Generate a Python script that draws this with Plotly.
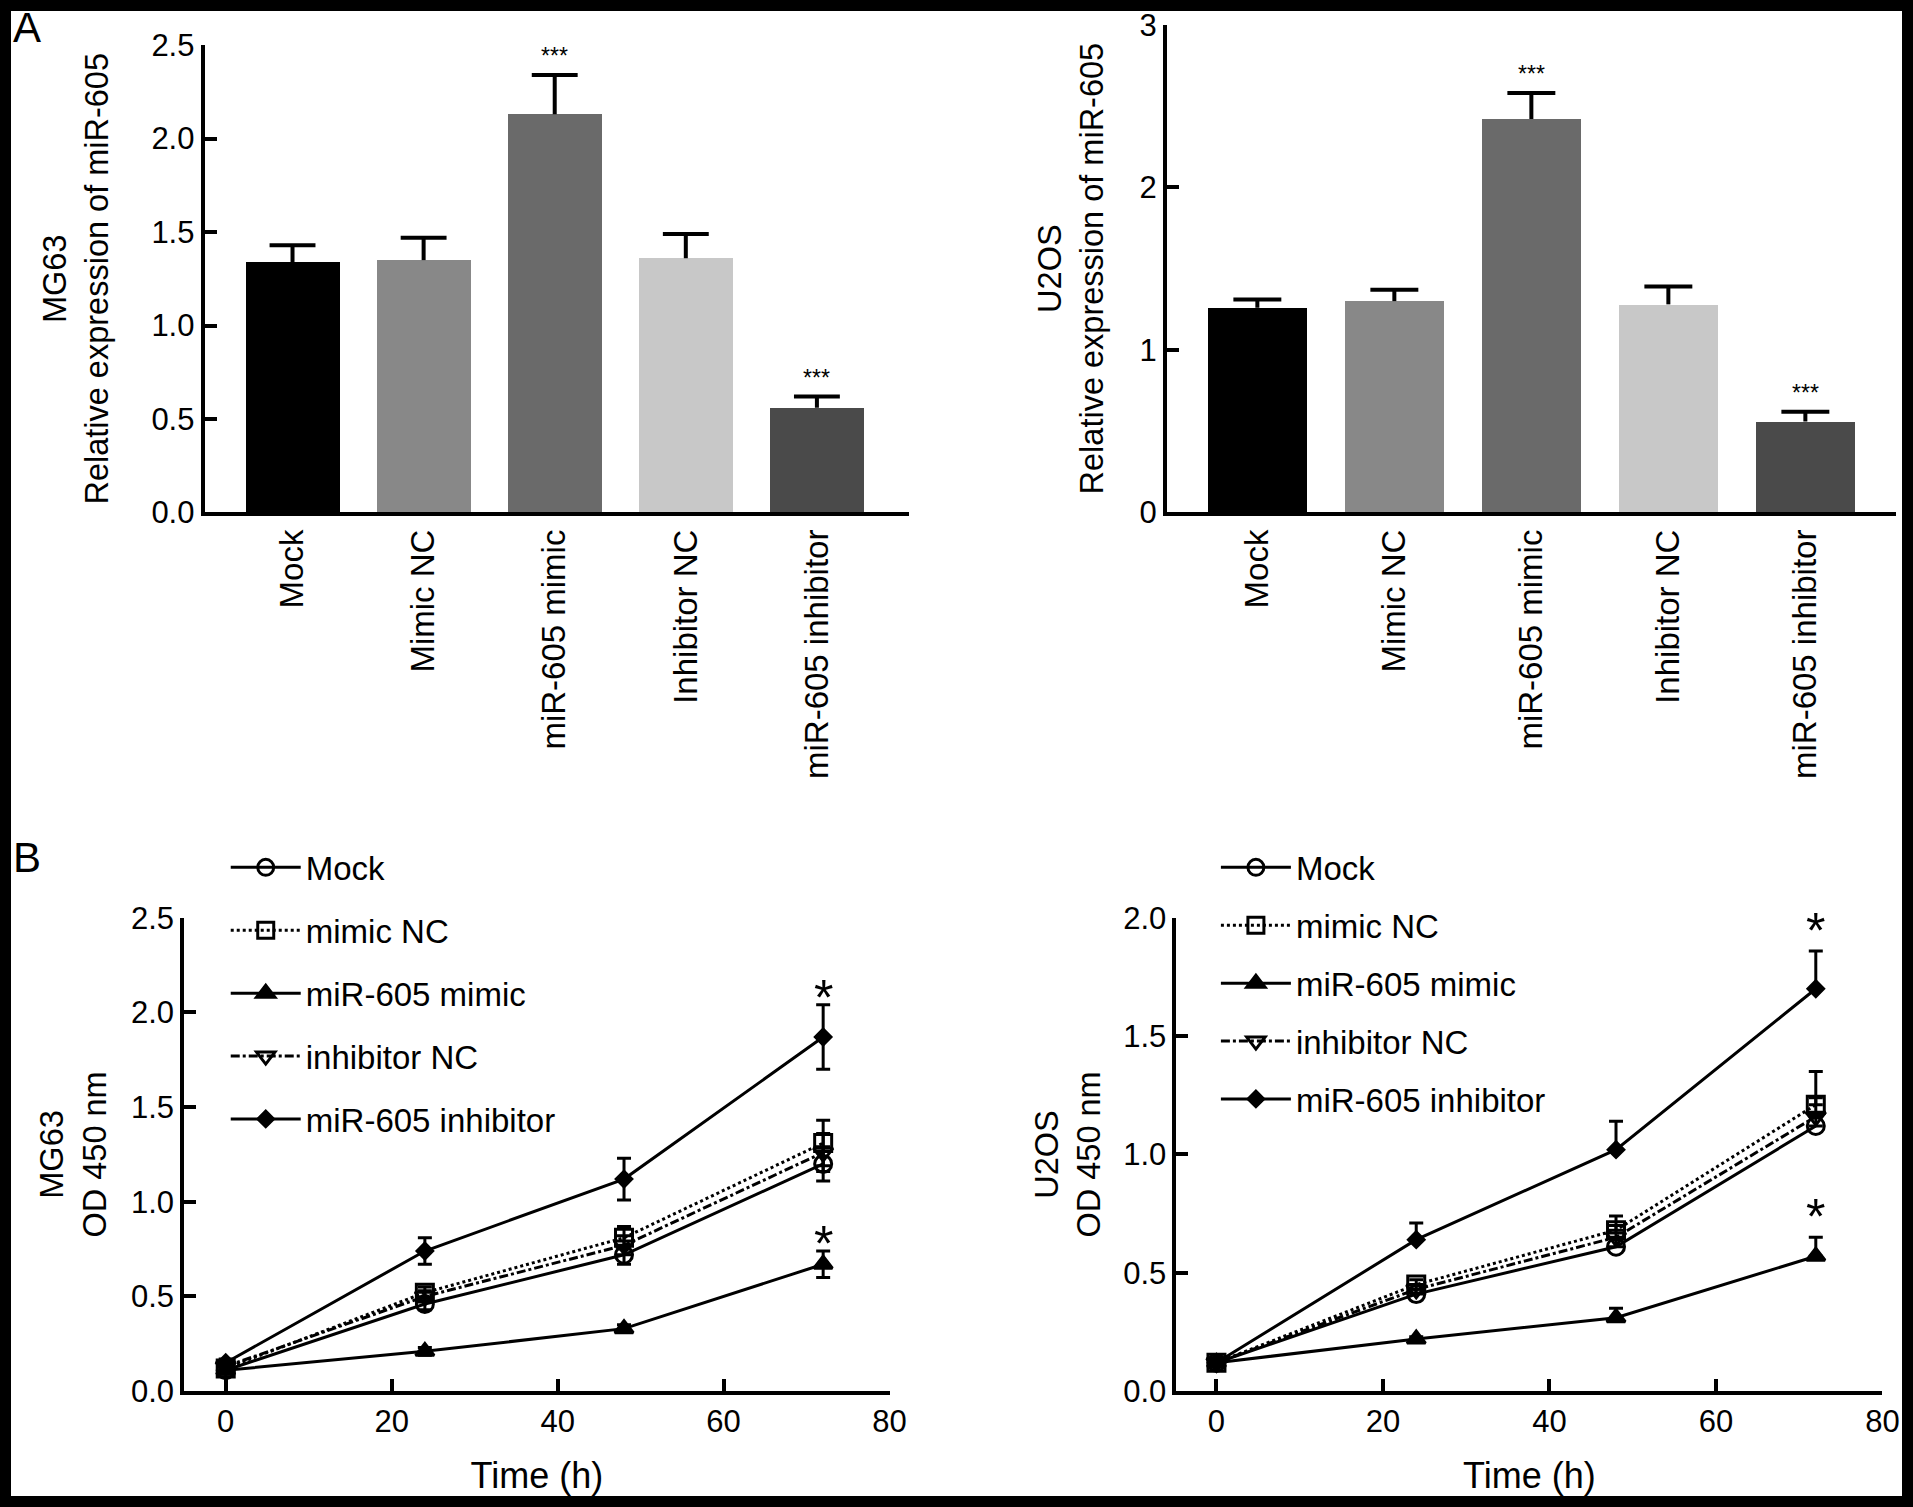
import plotly.graph_objects as go

# panel A: relative expression of miR-605 (bars, mean + SD)
groups = ["Mock", "Mimic NC", "miR-605 mimic", "Inhibitor NC", "miR-605 inhibitor"]
mg63_expr = [1.34, 1.35, 2.13, 1.36, 0.56]
mg63_expr_sd = [0.09, 0.12, 0.21, 0.13, 0.06]
u2os_expr = [1.26, 1.30, 2.42, 1.28, 0.56]
u2os_expr_sd = [0.05, 0.07, 0.16, 0.11, 0.06]
expr_sig = ["", "", "***", "", "***"]

# panel B: OD 450 nm growth curves
hours = [0, 24, 48, 72]
series = ["Mock", "mimic NC", "miR-605 mimic", "inhibitor NC", "miR-605 inhibitor"]
curve_sig = ["", "", "*", "", "*"]

mg63_mock = [0.11, 0.46, 0.72, 1.20]
mg63_mimic_nc = [0.12, 0.52, 0.81, 1.31]
mg63_mimic = [0.11, 0.21, 0.33, 0.67]
mg63_inhibitor_nc = [0.13, 0.50, 0.77, 1.26]
mg63_inhibitor = [0.15, 0.74, 1.12, 1.87]
mg63_mock_sd = [0.02, 0.03, 0.05, 0.09]
mg63_mimic_nc_sd = [0.02, 0.03, 0.06, 0.12]
mg63_mimic_sd = [0.02, 0.02, 0.02, 0.07]
mg63_inhibitor_nc_sd = [0.02, 0.03, 0.05, 0.10]
mg63_inhibitor_sd = [0.02, 0.07, 0.11, 0.17]

u2os_mock = [0.12, 0.41, 0.61, 1.12]
u2os_mimic_nc = [0.12, 0.45, 0.68, 1.21]
u2os_mimic = [0.12, 0.22, 0.31, 0.57]
u2os_inhibitor_nc = [0.12, 0.43, 0.65, 1.16]
u2os_inhibitor = [0.12, 0.64, 1.02, 1.70]
u2os_mock_sd = [0.01, 0.02, 0.03, 0.05]
u2os_mimic_nc_sd = [0.01, 0.02, 0.06, 0.14]
u2os_mimic_sd = [0.01, 0.01, 0.04, 0.08]
u2os_inhibitor_nc_sd = [0.01, 0.02, 0.05, 0.08]
u2os_inhibitor_sd = [0.01, 0.07, 0.12, 0.16]

bar_colors = ["#000000", "#888888", "#6a6a6a", "#c8c8c8", "#4a4a4a"]
line_dash = ["solid", "dot", "solid", "dashdot", "solid"]
marker_symbol = ["circle-open", "square-open", "triangle-up", "triangle-down-open", "diamond"]
marker_size = [17, 17, 16, 17, 12]

FONT = "Liberation Sans, Arial, sans-serif"
W, H = 1913, 1507

fig = go.Figure()


def add_bar_panel(vals, sd, xa, ya):
    pos = list(range(len(groups)))
    fig.add_trace(go.Bar(
        x=pos, y=vals, width=0.72, marker=dict(color=bar_colors, line=dict(width=0)),
        xaxis=xa, yaxis=ya, showlegend=False,
    ))
    # upper-only error bars with caps
    xs, ys = [], []
    for p, v, s in zip(pos, vals, sd):
        xs += [p, p, None, p - 0.175, p + 0.175, None]
        ys += [v, v + s, None, v + s, v + s, None]
    fig.add_trace(go.Scatter(
        x=xs, y=ys, mode="lines", line=dict(color="black", width=4),
        xaxis=xa, yaxis=ya, showlegend=False, hoverinfo="skip",
    ))
    for p, v, s, mark in zip(pos, vals, sd, expr_sig):
        if mark:
            fig.add_annotation(
                x=p, y=v + s, xref=xa, yref=ya, text=mark, showarrow=False,
                yanchor="bottom", yshift=4, font=dict(size=23, family=FONT, color="black"),
            )


def add_curve_panel(curves, sds, xa, ya, legend, one_sided, star_shift):
    for i, (name, vals, sd) in enumerate(zip(series, curves, sds)):
        err = dict(type="data", array=sd, color="black", thickness=3, width=7)
        if one_sided:
            err.update(symmetric=False, arrayminus=[0] * len(sd))
        fig.add_trace(go.Scatter(
            x=hours, y=vals, name=name, mode="lines+markers",
            line=dict(color="black", width=3, dash=line_dash[i]),
            marker=dict(symbol=marker_symbol[i], size=marker_size[i], color="black",
                        line=dict(color="black", width=3)),
            error_y=err, xaxis=xa, yaxis=ya, legend=legend, legendgroup=legend + name,
        ))
        if curve_sig[i]:
            fig.add_annotation(
                x=hours[-1], y=vals[-1] + sd[-1], xref=xa, yref=ya, text=curve_sig[i],
                showarrow=False, yanchor="bottom", yshift=star_shift,
                font=dict(size=50, family=FONT, color="black"),
            )


add_bar_panel(mg63_expr, mg63_expr_sd, "x", "y")
add_bar_panel(u2os_expr, u2os_expr_sd, "x2", "y2")
add_curve_panel(
    [mg63_mock, mg63_mimic_nc, mg63_mimic, mg63_inhibitor_nc, mg63_inhibitor],
    [mg63_mock_sd, mg63_mimic_nc_sd, mg63_mimic_sd, mg63_inhibitor_nc_sd, mg63_inhibitor_sd],
    "x3", "y3", "legend", one_sided=False, star_shift=-23,
)
add_curve_panel(
    [u2os_mock, u2os_mimic_nc, u2os_mimic, u2os_inhibitor_nc, u2os_inhibitor],
    [u2os_mock_sd, u2os_mimic_nc_sd, u2os_mimic_sd, u2os_inhibitor_nc_sd, u2os_inhibitor_sd],
    "x4", "y4", "legend2", one_sided=True, star_shift=-10,
)

axis_style = dict(
    showline=True, linecolor="black", linewidth=4, showgrid=False, zeroline=False,
    automargin=False, ticks="inside", ticklen=12, tickwidth=4, tickcolor="black",
    tickfont=dict(size=31, family=FONT, color="black"),
    title_font=dict(size=32.5, family=FONT, color="black"),
)
x_title_font = dict(size=36, family=FONT, color="black")
cat_axis = dict(
    axis_style, ticks="", tickangle=-90, tickvals=list(range(len(groups))), ticktext=groups,
    tickfont=dict(size=33, family=FONT, color="black"), ticklabelstandoff=0,
)

fig.update_layout(
    width=W, height=H, margin=dict(l=0, r=0, t=0, b=0, autoexpand=False),
    paper_bgcolor="white", plot_bgcolor="white",
    font=dict(family=FONT, color="black"),
    bargap=0,
    xaxis=dict(cat_axis, domain=[0.107, 0.475], range=[-0.67, 4.70], anchor="y"),
    yaxis=dict(axis_style, domain=[0.660, 0.970], range=[0, 2.5], dtick=0.5, tickformat=".1f",
               anchor="x", title=dict(text="MG63<br>Relative expression of miR-605", standoff=34)),
    xaxis2=dict(cat_axis, domain=[0.610, 0.991], range=[-0.66, 4.66], anchor="y2"),
    yaxis2=dict(axis_style, domain=[0.660, 0.9835], range=[0, 3], dtick=1,
                anchor="x2", title=dict(text="U2OS<br>Relative expression of miR-605", standoff=27)),
    xaxis3=dict(axis_style, domain=[0.0963, 0.465], range=[-5, 80], dtick=20, anchor="y3",
                title=dict(text="Time (h)", standoff=25, font=x_title_font)),
    yaxis3=dict(axis_style, domain=[0.0769, 0.391], range=[0, 2.5], dtick=0.5, tickformat=".1f",
                anchor="x3", title=dict(text="MG63<br>OD 450 nm", standoff=16)),
    xaxis4=dict(axis_style, domain=[0.615, 0.984], range=[-4.8, 80], dtick=20, anchor="y4",
                title=dict(text="Time (h)", standoff=25, font=x_title_font)),
    yaxis4=dict(axis_style, domain=[0.0769, 0.391], range=[0, 2.0], dtick=0.5, tickformat=".1f",
                anchor="x4", title=dict(text="U2OS<br>OD 450 nm", standoff=14)),
    legend=dict(x=0.118, y=0.443, xanchor="left", yanchor="top", itemwidth=70,
                tracegroupgap=17, bgcolor="rgba(0,0,0,0)",
                font=dict(size=33, family=FONT, color="black")),
    legend2=dict(x=0.6356, y=0.443, xanchor="left", yanchor="top", itemwidth=70,
                 tracegroupgap=12, bgcolor="rgba(0,0,0,0)",
                 font=dict(size=33, family=FONT, color="black")),
)

# panel letters
for letter, ypos in [("A", 0.982), ("B", 0.4307)]:
    fig.add_annotation(x=0.0141, y=ypos, xref="paper", yref="paper", text=letter,
                       xanchor="center", yanchor="middle", showarrow=False,
                       font=dict(size=42, family=FONT, color="black"))

# black frame round the whole figure
fig.add_shape(type="rect", xref="paper", yref="paper", x0=0, y0=0, x1=1, y1=1,
              line=dict(color="black", width=22), layer="above")

# drop the browser's default body margin so the figure fills the window
fig.write_html(
    "out.html",
    config={"displayModeBar": False},
    post_script="document.body.style.margin = '0';",
)
